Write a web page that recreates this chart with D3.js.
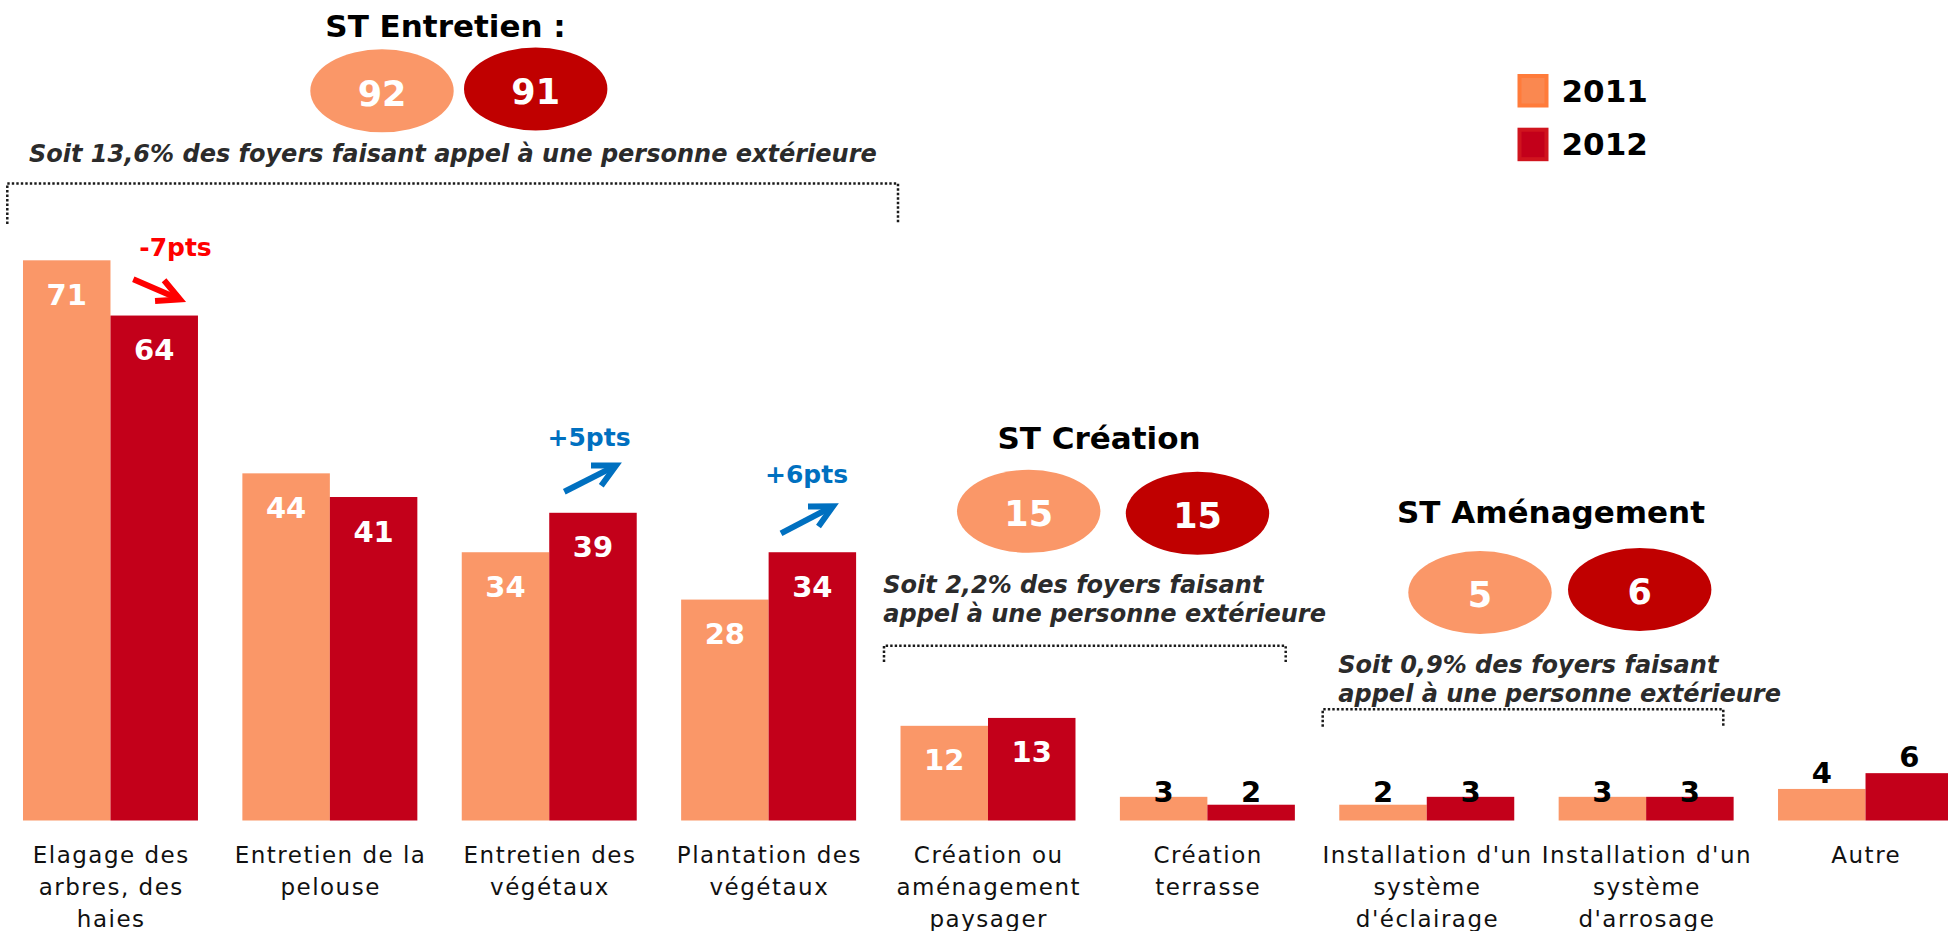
<!DOCTYPE html>
<html lang="fr">
<head>
<meta charset="utf-8">
<title>Prestations jardin 2011 / 2012</title>
<script src="https://cdn.jsdelivr.net/npm/d3@7"></script>
<style>
  html, body { margin: 0; padding: 0; background: #fff; overflow: hidden; }
  svg { display: block; font-family: "DejaVu Sans", Verdana, sans-serif; }
</style>
</head>
<body>
<svg id="chart" width="1948" height="931"></svg>
<script>
// ---- Data ----
const categories = [
  ["Elagage des", "arbres, des", "haies"],
  ["Entretien de la", "pelouse"],
  ["Entretien des", "végétaux"],
  ["Plantation des", "végétaux"],
  ["Création ou", "aménagement", "paysager"],
  ["Création", "terrasse"],
  ["Installation d'un", "système", "d'éclairage"],
  ["Installation d'un", "système", "d'arrosage"],
  ["Autre"]
];
const years = ["2011", "2012"];
const values2011 = [71, 44, 34, 28, 12, 3, 2, 3, 4];
const values2012 = [64, 41, 39, 34, 13, 2, 3, 3, 6];

// Sub-totals per family of services
const subtotalNames = ["ST Entretien :", "ST Création", "ST Aménagement"];
const subtotal2011 = [92, 15, 5];
const subtotal2012 = [91, 15, 6];
const subtotalNotes = [
  ["Soit 13,6% des foyers faisant appel à une personne extérieure"],
  ["Soit 2,2% des foyers faisant", "appel à une personne extérieure"],
  ["Soit 0,9% des foyers faisant", "appel à une personne extérieure"]
];

// Evolution call-outs (category index, label)
const evolutionIndex = [0, 2, 3];
const evolutionLabels = ["-7pts", "+5pts", "+6pts"];

// ---- Styles ----
const colors = { "2011": "#FA9768", "2012": "#C3001A" };
const bubbleColors = { "2011": "#FA9768", "2012": "#C00000" };
const legendFill = { "2011": "#FA8850", "2012": "#C3001A" };
const legendStroke = { "2011": "#FF7B3A", "2012": "#D0141E" };
const upColor = "#0070C0", downColor = "#FF0000";

const svg = d3.select("#chart");
const W = 1948, H = 931;
svg.append("rect").attr("width", W).attr("height", H).attr("fill", "#fff");

// ---- Scales ----
const x = d3.scaleBand()
  .domain(d3.range(categories.length))
  .range([0, 1976])
  .paddingInner(0.2024)
  .paddingOuter(0.1048);
const xSub = d3.scaleBand().domain(years).range([0, x.bandwidth()]);
const y = d3.scaleLinear().domain([0, 100]).range([820.5, 31.5]);

const rows = categories.map((c, i) => ({
  i, label: c,
  vals: [{ year: "2011", v: values2011[i] }, { year: "2012", v: values2012[i] }]
}));

// ---- Bars ----
const groups = svg.append("g").selectAll("g")
  .data(rows).join("g")
  .attr("transform", d => `translate(${x(d.i)},0)`);

groups.selectAll("rect")
  .data(d => d.vals).join("rect")
  .attr("x", d => xSub(d.year))
  .attr("y", d => y(d.v))
  .attr("width", xSub.bandwidth())
  .attr("height", d => y(0) - y(d.v))
  .attr("fill", d => colors[d.year]);

// Value labels: inside the bar (white) for tall bars, above (black) for short ones
groups.selectAll("text.val")
  .data(d => d.vals).join("text")
  .attr("class", "val")
  .attr("x", d => xSub(d.year) + xSub.bandwidth() / 2)
  .attr("y", d => d.v >= 10 ? y(d.v) + 44.5 : (d.v >= 4 ? y(d.v) - 6 : y(0) - 19))
  .attr("text-anchor", "middle")
  .attr("font-size", 29)
  .attr("font-weight", "bold")
  .attr("fill", d => d.v >= 10 ? "#fff" : "#000")
  .text(d => d.v);

// Category labels
groups.append("text")
  .attr("x", x.bandwidth() / 2)
  .attr("y", 863.3)
  .attr("text-anchor", "middle")
  .attr("font-size", 23)
  .attr("letter-spacing", 1.5)
  .attr("fill", "#111")
  .selectAll("tspan")
  .data(d => d.label).join("tspan")
  .attr("x", x.bandwidth() / 2 + 0.75)
  .attr("dy", (d, k) => k === 0 ? 0 : 31.7)
  .text(d => d);

// ---- Sub-total blocks ----
const stLayout = [
  { tx: 445.5, ty: 37.3, c1: [382, 90.8], c2: [535.7, 89], nx: 29, ny: 161.7, br: [7.3, 898, 183.5, 224] },
  { tx: 1099, ty: 449.3, c1: [1028.7, 511.3], c2: [1197.5, 513.3], nx: 883.3, ny: 593.3, br: [884, 1285.7, 645.7, 662] },
  { tx: 1551, ty: 523.3, c1: [1480, 592.5], c2: [1639.7, 589.5], nx: 1338.3, ny: 673.3, br: [1322.7, 1723.3, 709.3, 726.7] }
];
const rx = 71.7, ry = 41.5;

subtotalNames.forEach((name, k) => {
  const L = stLayout[k];
  const g = svg.append("g");
  g.append("text")
    .attr("x", L.tx).attr("y", L.ty)
    .attr("text-anchor", "middle")
    .attr("font-size", 31).attr("font-weight", "bold")
    .attr("fill", "#000")
    .text(name);

  const bubbles = [
    { year: "2011", v: subtotal2011[k], c: L.c1 },
    { year: "2012", v: subtotal2012[k], c: L.c2 }
  ];
  g.selectAll("ellipse").data(bubbles).join("ellipse")
    .attr("cx", d => d.c[0]).attr("cy", d => d.c[1])
    .attr("rx", rx).attr("ry", ry)
    .attr("fill", d => bubbleColors[d.year]);
  g.selectAll("text.bub").data(bubbles).join("text")
    .attr("class", "bub")
    .attr("x", d => d.c[0]).attr("y", d => d.c[1] + 14.8)
    .attr("text-anchor", "middle")
    .attr("font-size", 35).attr("font-weight", "bold")
    .attr("fill", "#fff")
    .text(d => d.v);

  g.append("text")
    .attr("x", L.nx).attr("y", L.ny)
    .attr("font-size", 24).attr("font-weight", "bold").attr("font-style", "italic")
    .attr("fill", "#2B2B2B")
    .selectAll("tspan").data(subtotalNotes[k]).join("tspan")
    .attr("x", L.nx)
    .attr("dy", (d, j) => j === 0 ? 0 : 28.4)
    .text(d => d);

  const [bx1, bx2, byTop, byBot] = L.br;
  g.append("path")
    .attr("d", `M${bx1},${byBot}V${byTop}H${bx2}V${byBot}`)
    .attr("fill", "none")
    .attr("stroke", "#1a1a1a")
    .attr("stroke-width", 2.5)
    .attr("stroke-dasharray", "2.4,2.1");
});

// ---- Evolution call-outs ----
const evoLayout = [
  { tx: 175.5, ty: 256, a: [133.3, 279.3, 180, 299.5] },
  { tx: 589, ty: 445.7, a: [564.3, 491.7, 616, 465.5] },
  { tx: 806.5, ty: 482.7, a: [781, 533.3, 833, 506.2] }
];
function arrow(g, x1, y1, x2, y2, color) {
  const ang = Math.atan2(y2 - y1, x2 - x1);
  const back = ang + Math.PI;
  const len = 25, spread = 27 * Math.PI / 180;
  g.append("line")
    .attr("x1", x1).attr("y1", y1).attr("x2", x2 - 3 * Math.cos(ang)).attr("y2", y2 - 3 * Math.sin(ang))
    .attr("stroke", color).attr("stroke-width", 6);
  const p1 = [x2 + len * Math.cos(back - spread), y2 + len * Math.sin(back - spread)];
  const p2 = [x2 + len * Math.cos(back + spread), y2 + len * Math.sin(back + spread)];
  g.append("path")
    .attr("d", `M${p1[0]},${p1[1]}L${x2},${y2}L${p2[0]},${p2[1]}`)
    .attr("fill", "none").attr("stroke", color)
    .attr("stroke-width", 6).attr("stroke-linejoin", "miter");
}
evolutionLabels.forEach((lab, k) => {
  const L = evoLayout[k];
  const color = lab.startsWith("-") ? downColor : upColor;
  const g = svg.append("g");
  g.append("text")
    .attr("x", L.tx).attr("y", L.ty)
    .attr("text-anchor", "middle")
    .attr("font-size", 25).attr("font-weight", "bold")
    .attr("fill", color)
    .text(lab);
  arrow(g, L.a[0], L.a[1], L.a[2], L.a[3], color);
});

// ---- Legend ----
const legend = svg.append("g");
const legendY = [74, 127.7];
years.forEach((yr, k) => {
  legend.append("rect")
    .attr("x", 1519.5).attr("y", legendY[k] + 2)
    .attr("width", 27).attr("height", 29.5)
    .attr("fill", legendFill[yr])
    .attr("stroke", legendStroke[yr]).attr("stroke-width", 4);
  legend.append("text")
    .attr("x", 1561.5).attr("y", legendY[k] + 27.5)
    .attr("font-size", 31).attr("font-weight", "bold")
    .attr("fill", "#000")
    .text(yr);
});
</script>
</body>
</html>
